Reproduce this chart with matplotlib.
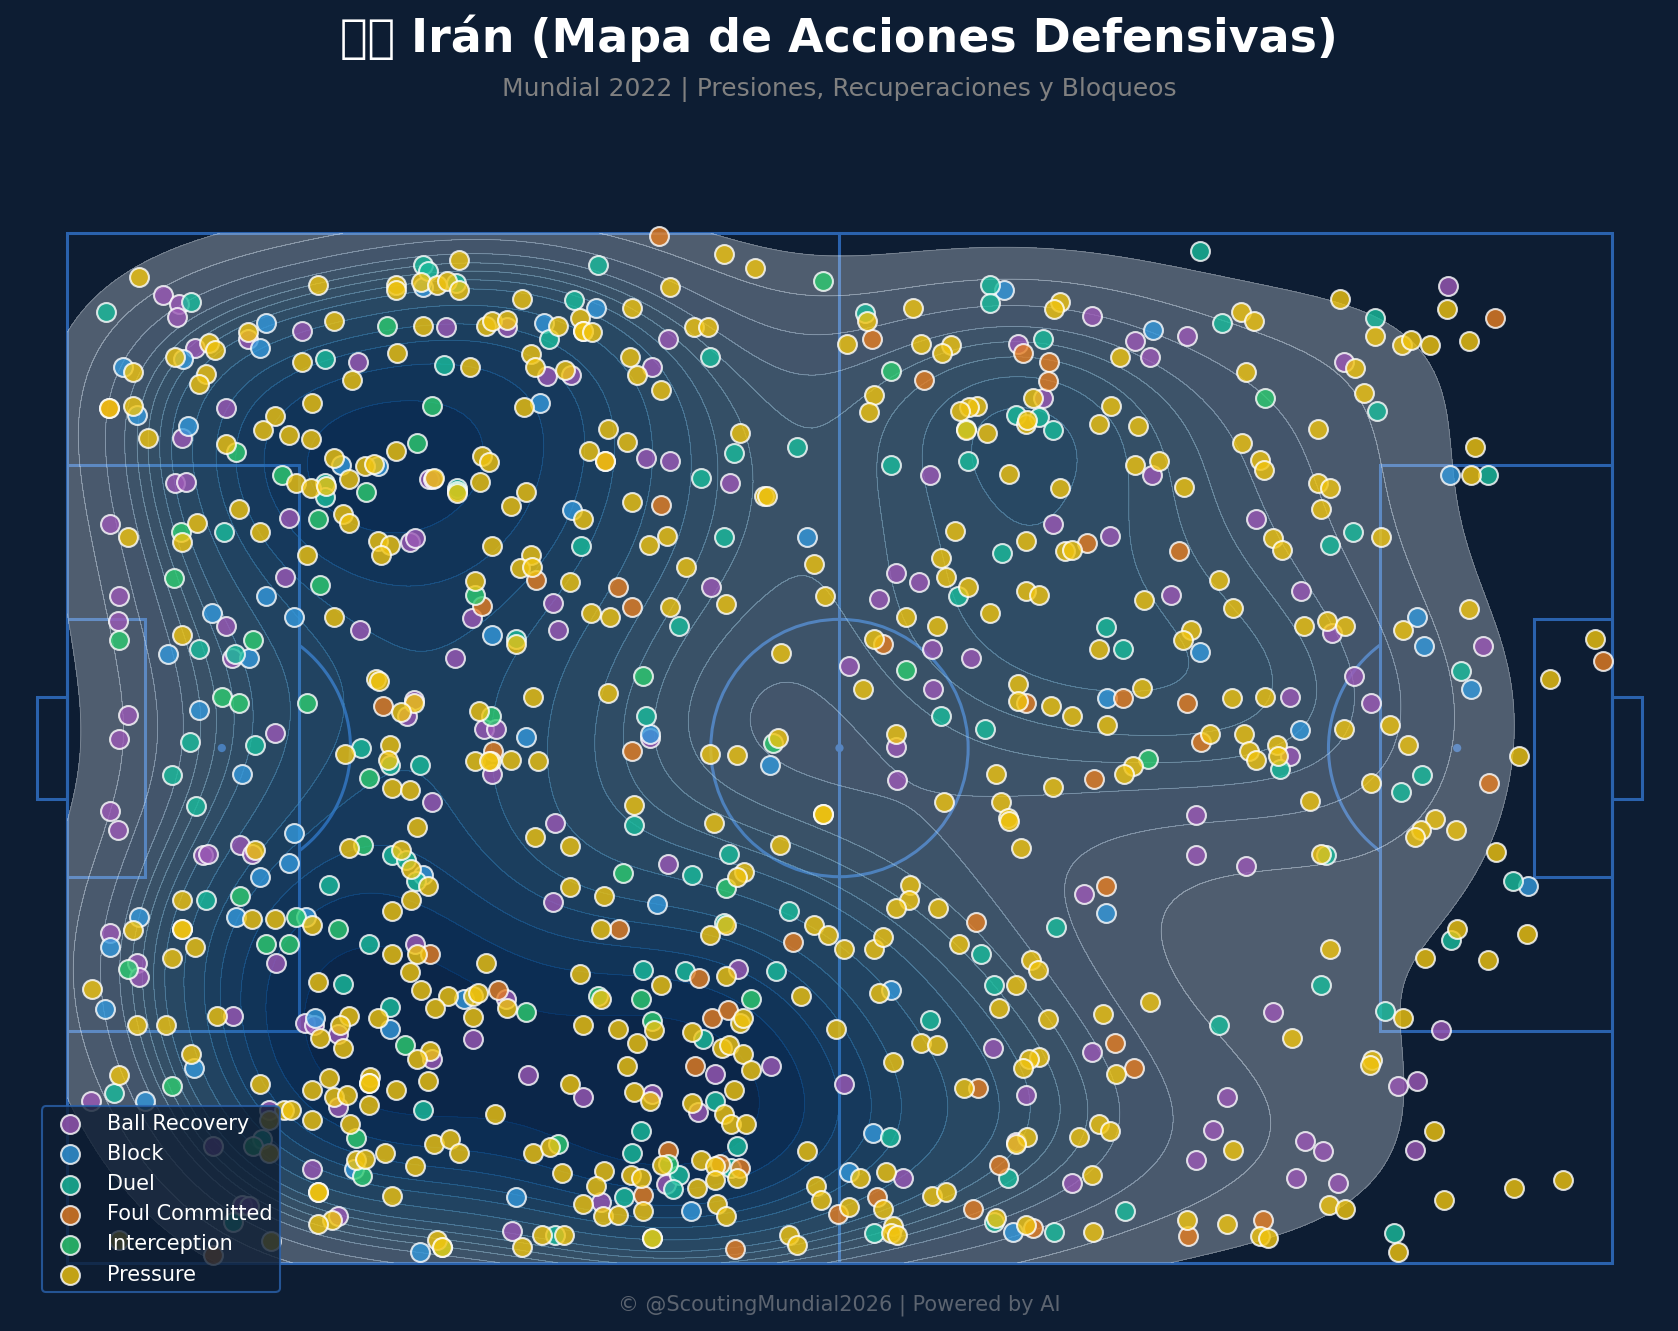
import matplotlib
matplotlib.use("Agg")
import matplotlib.pyplot as plt
from matplotlib.patches import Rectangle, Circle, Arc
import numpy as np
import seaborn as sns

# Defensive actions in pitch coordinates (120 x 80, y measured from the top touchline)
ball_recovery = [
    (7.4,4.8),(8.7,5.5),(8.5,6.5),(14.0,8.2),(18.2,7.6),(29.4,7.3),(34.2,7.3),(9.9,8.9),(22.6,10.0),(37.3,11.1),
    (39.1,11.0),(12.3,13.6),(8.9,15.9),(28.1,19.1),(28.4,19.1),(8.4,19.4),(9.2,19.3),(3.3,22.6),(17.2,22.1),(26.6,24.0),
    (27.0,23.7),(46.7,8.2),(45.4,10.4),(45.0,17.5),(46.8,17.7),(51.5,19.4),(79.6,6.4),(73.9,8.6),(75.8,12.8),(67.0,18.8),
    (76.6,22.6),(107.3,4.1),(87.0,8.0),(83.0,8.4),(84.1,9.6),(99.2,10.0),(84.3,18.8),(92.4,22.2),(81.0,23.5),(16.9,26.7),
    (4.0,28.2),(3.9,30.1),(12.3,30.5),(22.7,30.8),(12.8,33.0),(31.45,29.9),(37.7,28.7),(38.1,30.8),(30.1,33.0),(26.9,36.3),
    (26.4,37.5),(32.4,38.5),(33.3,38.55),(4.7,37.4),(4.0,39.3),(16.1,38.8),(33.0,42.05),(28.3,44.2),(3.3,44.9),(3.9,46.4),
    (37.9,45.8),(13.4,47.5),(14.35,48.2),(10.5,48.3),(10.9,48.2),(37.7,52.0),(50.0,27.5),(63.1,28.45),(64.4,26.4),(66.2,27.1),
    (67.2,32.3),(70.2,33.0),(60.75,33.6),(67.3,35.4),(45.3,39.25),(64.4,39.9),(64.5,42.45),(46.7,49.0),(79.0,51.35),(85.8,28.1),
    (95.9,27.8),(98.3,31.05),(110.0,32.05),(100.0,34.4),(101.3,36.5),(95.0,36.0),(95.0,40.6),(87.7,45.2),(87.7,48.35),(91.6,49.2),
    (3.3,54.35),(16.2,56.7),(5.4,56.7),(5.6,57.8),(12.9,60.85),(27.0,55.2),(34.1,59.5),(18.5,61.4),(19.2,61.55),(21.0,62.25),
    (31.5,62.65),(28.3,64.2),(1.8,67.4),(21.0,67.9),(35.8,65.4),(15.7,68.1),(11.3,70.95),(13.55,75.5),(14.1,75.6),(19.0,72.7),
    (21.0,76.35),(34.55,77.55),(52.1,57.2),(50.3,65.3),(54.7,64.7),(40.1,67.15),(45.4,66.9),(49.0,68.3),(60.35,66.1),(46.5,73.9),
    (41.5,75.3),(71.9,63.3),(79.6,63.6),(74.5,67.0),(73.75,70.6),(64.9,73.45),(78.1,73.8),(93.7,60.55),(106.75,61.95),(103.4,66.3),
    (104.9,65.9),(90.1,67.1),(89.0,69.7),(96.2,70.55),(97.6,71.3),(104.7,71.2),(87.7,72.0),(95.5,73.4),(98.75,73.8),
]
block = [
    (27.6,4.2),(15.4,7.0),(15.0,8.9),(37.0,7.0),(9.0,9.8),(4.3,10.4),(36.7,13.2),(5.4,14.1),(9.4,15.0),(21.3,18.0),
    (24.1,18.1),(41.1,5.8),(39.2,21.5),(57.5,23.6),(72.8,4.4),(84.4,7.5),(107.45,18.8),(15.4,28.2),(11.2,29.5),(17.6,29.85),
    (7.85,32.7),(14.1,33.0),(33.0,31.25),(35.6,39.15),(10.2,37.05),(13.6,42.05),(17.6,46.6),(17.2,48.9),(15.0,50.0),(27.6,49.9),
    (5.6,53.1),(13.1,53.1),(18.55,53.1),(45.3,38.9),(54.6,41.35),(80.8,36.15),(45.8,52.1),(80.7,52.85),(88.05,32.5),(104.9,29.85),
    (105.4,32.05),(109.1,35.4),(95.8,38.6),(113.5,50.7),(3.3,55.5),(2.9,60.3),(30.8,59.5),(19.25,61.0),(25.1,61.8),(9.85,64.9),
    (6.0,67.4),(22.3,72.7),(34.9,74.9),(27.4,79.2),(48.5,76.0),(64.0,58.8),(62.6,69.95),(60.75,72.95),(73.5,77.6),
]
duel = [
    (3.0,6.1),(9.6,5.3),(27.6,2.5),(28.0,2.9),(30.2,3.9),(37.4,8.2),(20.0,9.8),(29.3,10.2),(20.0,19.4),(20.0,20.5),
    (30.3,19.8),(12.2,23.2),(41.2,2.5),(39.4,5.2),(49.9,9.6),(51.8,17.1),(49.2,19.05),(56.7,16.6),(39.9,24.3),(51.0,23.6),
    (62.0,6.2),(71.7,4.0),(71.7,5.4),(75.8,8.2),(73.7,14.15),(75.5,14.3),(76.6,15.3),(64.0,18.0),(70.0,17.7),(72.6,24.85),
    (88.0,1.4),(101.6,6.6),(89.7,7.0),(101.8,13.8),(110.4,18.8),(98.1,24.2),(99.9,23.25),(10.2,32.3),(13.0,32.7),(34.9,31.5),
    (9.5,39.5),(14.6,39.8),(22.8,40.0),(25.05,41.3),(27.4,41.3),(8.1,42.1),(10.0,44.5),(25.2,48.35),(26.3,48.7),(27.1,50.3),
    (20.3,50.65),(10.8,51.8),(47.5,30.5),(69.2,28.2),(80.7,30.6),(67.9,37.5),(71.3,38.55),(45.0,37.5),(44.05,45.95),(51.4,48.2),
    (48.55,49.9),(56.1,52.7),(82.0,32.3),(108.3,34.05),(94.2,41.6),(105.3,42.1),(103.65,43.45),(97.8,48.3),(112.35,50.3),(21.4,58.35),
    (23.4,55.2),(25.1,60.1),(3.65,66.8),(27.65,68.1),(15.15,70.35),(12.9,76.8),(37.9,77.85),(51.0,53.6),(44.7,57.25),(48.0,57.3),
    (55.1,57.3),(49.4,62.65),(50.3,67.4),(44.6,69.8),(43.9,71.5),(51.6,72.6),(52.05,70.95),(47.5,73.2),(47.1,74.3),(43.25,74.9),
    (71.0,56.0),(76.8,53.9),(72.0,58.4),(67.0,61.15),(63.9,70.2),(73.1,73.4),(62.7,77.7),(72.0,76.8),(76.7,77.6),(107.5,54.9),
    (97.4,58.4),(102.4,60.45),(89.5,61.55),(82.2,76.0),(103.1,77.7),
]
foul_committed = [
    (3.2,13.6),(46.0,0.2),(41.8,17.7),(46.1,21.1),(62.5,8.2),(74.3,9.3),(76.3,10.0),(76.2,11.5),(66.6,11.4),(79.2,24.1),
    (110.95,6.6),(86.4,24.7),(32.2,29.0),(36.4,26.95),(24.5,36.7),(33.1,40.2),(42.8,27.5),(43.9,29.05),(63.4,31.9),(43.9,40.2),
    (74.5,36.5),(79.8,42.4),(80.7,50.7),(119.3,33.2),(82.0,36.15),(87.0,36.5),(88.1,39.5),(110.5,42.7),(28.2,56.0),(33.5,58.8),
    (11.3,79.4),(42.9,54.1),(56.4,55.1),(49.1,57.9),(50.1,61.0),(51.35,60.35),(48.8,64.7),(46.7,71.3),(50.7,72.35),(52.3,72.6),
    (44.75,74.7),(51.9,78.9),(59.9,76.2),(70.6,53.5),(70.8,66.45),(72.4,72.4),(62.9,74.9),(70.4,75.8),(75.0,77.3),(81.4,62.9),
    (82.9,64.9),(87.1,77.9),(92.9,76.7),
]
interception = [
    (24.8,7.2),(28.3,13.4),(13.1,17.0),(27.2,16.3),(16.7,18.8),(23.2,20.1),(30.3,20.0),(19.5,22.2),(8.8,23.2),(58.7,3.7),
    (64.0,10.7),(69.8,15.2),(93.1,12.8),(8.25,26.8),(4.0,31.6),(19.6,27.3),(14.4,31.6),(31.7,28.1),(32.9,37.5),(12.0,36.0),
    (13.3,36.5),(18.6,36.5),(23.4,42.3),(23.0,47.5),(13.4,51.5),(17.8,53.15),(65.2,33.95),(44.75,34.4),(54.8,39.6),(51.2,50.9),
    (43.2,49.7),(84.0,40.85),(15.4,55.2),(17.2,55.2),(21.0,54.1),(4.7,57.2),(35.6,60.55),(26.25,63.1),(8.1,66.3),(14.4,70.95),
    (22.45,70.3),(38.1,70.8),(22.9,73.25),(29.1,78.8),(41.2,59.3),(44.6,59.5),(53.1,59.5),(45.4,61.2),(46.7,72.3),(45.4,78.1),
]
pressure = [
    (5.6,3.4),(30.4,2.1),(19.5,4.0),(25.5,4.0),(25.5,4.4),(27.5,3.8),(28.7,4.0),(29.5,3.7),(30.4,4.4),(35.3,5.1),
    (14.0,7.7),(20.7,6.8),(27.6,7.2),(32.5,7.2),(33.0,6.8),(34.2,6.7),(38.1,7.2),(11.0,8.5),(11.5,9.1),(8.4,9.6),
    (5.1,10.8),(10.8,10.9),(10.2,11.7),(18.2,10.0),(22.1,11.4),(25.6,9.3),(31.3,10.4),(36.0,9.4),(36.3,10.4),(38.7,10.6),
    (3.2,13.6),(5.1,13.4),(19.0,13.2),(35.5,13.5),(16.1,14.2),(6.3,15.9),(15.2,15.3),(17.2,15.7),(18.9,16.0),(12.3,16.4),
    (25.5,16.9),(20.7,17.5),(23.1,18.1),(23.8,17.9),(32.2,17.3),(32.8,17.8),(17.8,19.4),(18.9,19.8),(20.1,19.6),(21.9,19.1),
    (28.5,19.0),(30.3,20.2),(32.1,19.3),(35.6,20.1),(34.5,21.2),(13.3,21.4),(21.4,21.8),(21.9,22.5),(4.7,23.6),(10.1,22.5),
    (8.9,24.0),(15.0,23.2),(24.1,23.9),(25.1,24.2),(24.4,25.0),(18.6,25.0),(33.0,24.3),(36.0,25.0),(35.2,26.0),(36.1,25.9),
    (51.0,1.6),(53.4,2.7),(46.8,4.2),(43.9,5.8),(39.8,6.6),(40.1,7.6),(40.1,7.6),(40.8,7.7),(48.7,7.3),(49.8,7.3),
    (43.7,9.6),(44.3,11.05),(46.1,12.2),(42.0,15.2),(43.5,16.2),(40.5,16.9),(41.8,17.7),(52.3,15.5),(54.1,20.4),(54.4,20.4),
    (40.1,22.2),(43.9,20.9),(45.2,24.2),(46.6,23.5),(58.0,25.7),(48.1,25.9),(62.1,6.8),(60.6,8.6),(65.7,5.8),(77.1,5.3),
    (76.7,5.9),(66.3,8.6),(68.7,8.7),(68.0,9.3),(62.7,12.6),(62.3,13.9),(75.0,12.8),(80.2,14.85),(70.65,13.4),(70.1,13.5),
    (69.4,13.8),(69.8,15.3),(71.5,15.55),(74.5,14.8),(74.6,14.5),(73.2,18.7),(77.1,19.8),(69.0,23.1),(74.5,23.9),(77.5,24.7),
    (78.1,24.6),(67.9,25.2),(98.9,5.1),(101.6,8.0),(107.2,5.9),(108.9,8.4),(103.7,8.7),(104.4,8.3),(105.9,8.7),(81.8,9.6),
    (91.2,6.1),(92.2,6.85),(91.6,10.8),(100.1,10.5),(100.8,12.4),(81.1,13.4),(83.2,15.0),(97.2,15.2),(91.3,16.3),(109.4,16.6),
    (83.0,18.0),(84.8,17.7),(86.8,19.7),(92.7,17.6),(93.0,18.4),(97.2,19.4),(98.1,19.8),(97.4,21.4),(109.1,18.8),(93.7,23.7),
    (94.4,24.65),(102.1,23.6),(20.7,29.8),(8.9,31.25),(31.7,27.0),(34.9,31.9),(24.0,34.6),(24.2,34.8),(26.9,36.5),(25.9,37.2),
    (32.0,37.1),(36.2,36.0),(21.6,40.5),(25.1,39.8),(24.9,40.9),(31.7,41.0),(32.9,41.0),(32.8,41.0),(34.5,40.9),(36.6,41.0),
    (25.2,43.1),(26.6,43.3),(27.2,46.15),(36.3,46.9),(14.6,47.9),(21.9,47.8),(25.9,47.9),(26.7,49.4),(28.05,50.7),(8.9,51.8),
    (26.7,51.8),(25.2,52.7),(14.35,53.25),(16.1,53.25),(39.05,27.1),(40.7,29.5),(42.2,29.8),(46.8,29.05),(51.2,28.8),(58.9,28.2),
    (68.3,26.7),(70.0,27.5),(74.5,27.8),(75.5,28.1),(71.7,29.5),(65.2,29.8),(67.6,30.55),(80.2,32.3),(55.45,32.6),(62.7,31.5),
    (61.8,35.4),(42.0,35.75),(73.9,35.0),(73.9,36.35),(76.4,36.75),(78.1,37.5),(80.8,38.2),(49.9,40.5),(52.05,40.55),(55.2,39.2),
    (64.4,38.9),(72.2,42.05),(76.6,43.0),(68.1,44.2),(72.55,44.2),(73.1,45.45),(73.2,45.7),(74.1,47.8),(44.05,44.45),(50.25,45.8),
    (58.7,45.1),(58.7,45.1),(55.4,47.5),(52.6,49.6),(52.0,50.0),(39.05,47.6),(39.05,50.8),(41.7,51.5),(65.5,50.65),(65.4,51.8),
    (64.4,52.45),(67.65,52.4),(89.5,26.95),(83.7,28.5),(90.6,29.1),(108.9,29.2),(87.3,30.8),(86.7,31.6),(96.1,30.55),(97.9,30.1),
    (99.3,30.55),(103.8,30.8),(118.7,31.5),(115.2,34.6),(83.5,35.3),(90.5,36.15),(93.1,36.0),(99.2,38.5),(102.8,38.2),(104.2,39.8),
    (112.8,40.6),(88.8,38.9),(91.45,38.9),(91.85,40.2),(92.4,40.95),(94.0,39.75),(94.1,40.6),(82.8,41.4),(82.1,42.05),(101.3,42.75),
    (96.6,44.1),(97.4,48.2),(106.3,45.55),(105.2,46.4),(104.7,46.9),(107.9,46.4),(111.0,48.05),(5.1,54.15),(8.9,54.1),(8.9,54.1),
    (9.9,55.5),(8.1,56.3),(19.0,53.75),(1.9,58.7),(5.4,61.55),(7.7,61.55),(11.6,60.8),(25.2,56.0),(27.2,56.0),(26.6,57.4),
    (19.5,58.15),(32.5,56.7),(27.5,58.8),(29.6,59.3),(31.5,59.3),(31.9,59.0),(28.6,60.2),(34.15,60.2),(31.5,60.9),(21.9,60.8),
    (21.2,61.55),(19.65,62.5),(21.45,63.3),(24.15,61.0),(9.6,63.8),(28.2,63.55),(27.2,64.2),(4.0,65.4),(15.0,66.1),(19.0,66.6),
    (20.35,65.65),(20.7,67.15),(21.7,67.0),(23.4,67.75),(23.5,65.6),(23.45,66.0),(23.4,66.05),(25.5,66.6),(28.05,65.9),(39.05,66.1),
    (33.2,68.45),(16.8,68.1),(17.4,68.1),(15.7,68.9),(15.7,71.5),(4.0,78.2),(15.85,78.3),(19.0,68.9),(21.95,69.2),(28.5,70.8),
    (29.75,70.4),(30.4,71.5),(36.2,71.5),(37.5,71.0),(38.4,73.05),(22.45,72.0),(23.1,71.9),(24.7,71.5),(27.0,72.5),(19.5,74.5),
    (19.5,74.5),(25.2,74.8),(20.6,76.7),(19.5,77.0),(35.3,78.8),(36.9,77.85),(38.6,77.85),(28.7,78.25),(29.1,78.8),(41.5,54.1),
    (51.2,53.75),(49.9,54.5),(58.0,53.75),(59.1,54.5),(60.35,55.65),(62.7,55.6),(63.4,54.7),(39.8,57.6),(46.1,58.4),(51.2,57.7),
    (41.5,59.5),(57.0,59.3),(40.1,61.55),(42.8,61.8),(45.6,61.9),(48.55,62.1),(52.3,61.35),(52.5,61.0),(59.7,61.8),(44.3,62.9),
    (43.5,64.7),(50.9,63.35),(51.4,63.1),(52.5,63.8),(53.1,65.05),(44.05,66.75),(45.3,67.4),(48.55,67.6),(51.0,68.45),(51.6,69.25),
    (52.7,69.25),(51.8,66.6),(57.5,71.3),(46.2,72.4),(49.2,72.0),(50.3,72.5),(52.05,73.45),(41.7,72.9),(43.8,73.2),(44.6,73.45),
    (48.9,74.2),(50.3,73.6),(41.1,74.0),(40.1,75.4),(41.65,76.4),(42.8,76.3),(44.7,76.0),(50.5,75.4),(51.2,76.4),(45.4,78.1),
    (56.1,77.85),(56.7,78.6),(58.2,74.0),(58.6,75.1),(60.75,75.7),(69.3,55.2),(74.9,56.5),(75.4,57.25),(63.1,59.0),(73.7,58.4),
    (72.4,60.2),(76.2,61.05),(80.5,60.7),(66.3,62.9),(67.6,63.1),(64.15,64.4),(75.5,64.0),(74.7,64.2),(74.3,64.9),(69.7,66.45),
    (74.6,70.25),(73.75,70.8),(78.6,70.2),(80.2,69.2),(63.6,72.95),(61.6,73.45),(79.6,73.2),(63.4,75.8),(67.2,74.8),(68.3,74.5),
    (64.15,77.15),(64.0,77.65),(64.5,77.85),(72.15,76.5),(74.5,77.1),(79.7,77.6),(108.0,54.1),(113.4,54.45),(105.5,56.3),(110.4,56.5),
    (98.1,55.65),(84.1,59.7),(103.8,61.0),(95.2,62.5),(101.4,64.25),(101.2,64.65),(81.5,65.3),(106.2,69.8),(81.0,69.8),(90.6,71.2),
    (116.25,73.6),(112.4,74.2),(107.0,75.1),(98.05,75.5),(99.3,75.8),(87.0,76.7),(90.1,77.0),(92.7,77.9),(93.3,78.1),(103.4,79.2),
]

series_names = ["Ball Recovery", "Block", "Duel", "Foul Committed", "Interception", "Pressure"]
series_points = [ball_recovery, block, duel, foul_committed, interception, pressure]
series_colors = ["#9b59b6", "#3498db", "#1abc9c", "#e67e22", "#2ecc71", "#f1c40f"]

BG = "#0d1d33"
LINE = "#2a62ad"

W, H = 1678, 1331
fig = plt.figure(figsize=(W / 100, H / 100), dpi=100, facecolor=BG)
ax = fig.add_axes([0, 0, 1, 1], facecolor=BG)
scale = 12.868
ax.set_xlim(-67.4 / scale, (W - 67.4) / scale)
ax.set_ylim((H - 233.3) / scale, -233.3 / scale)
ax.axis("off")

# Pitch markings
line_kw = dict(fill=False, ec=LINE, lw=2.2, zorder=1)
for x, y, w, h in [(0, 0, 120, 80), (0, 18, 18, 44), (102, 18, 18, 44), (0, 30, 6, 20),
                   (114, 30, 6, 20), (-2.4, 36, 2.4, 8), (120, 36, 2.4, 8)]:
    ax.add_patch(Rectangle((x, y), w, h, **line_kw))
ax.plot([60, 60], [0, 80], color=LINE, lw=2.2, zorder=1)
ax.add_patch(Circle((60, 40), 10, **line_kw))
ax.add_patch(Arc((12, 40), 20, 20, theta1=-53.1, theta2=53.1, ec=LINE, lw=2.2, zorder=1))
ax.add_patch(Arc((108, 40), 20, 20, theta1=126.9, theta2=233.1, ec=LINE, lw=2.2, zorder=1))
for cx in (12, 60, 108):
    ax.add_patch(Circle((cx, 40), 0.32, fc=LINE, ec="none", zorder=1))

# Density of all actions, limited to the pitch
all_pts = np.array([p for pts in series_points for p in pts])
kde_kw = dict(x=all_pts[:, 0], y=all_pts[:, 1], levels=15, thresh=0.05, bw_adjust=1.05,
              clip=((0, 120), (0, 80)), ax=ax, zorder=2)
sns.kdeplot(fill=True, cmap="Blues", alpha=0.3, **kde_kw)
sns.kdeplot(fill=False, cmap="Blues", alpha=0.28, linewidths=0.6, **kde_kw)
ax.set_xlim(-67.4 / scale, (W - 67.4) / scale)
ax.set_ylim((H - 233.3) / scale, -233.3 / scale)
ax.axis("off")

# One scatter layer per action type
for name, pts, col in zip(series_names, series_points, series_colors):
    arr = np.array(pts)
    ax.scatter(arr[:, 0], arr[:, 1], s=185, color=col, edgecolors="white", linewidths=1.5,
               alpha=0.8, label=name, zorder=3, clip_on=False)

leg = ax.legend(loc="lower left", bbox_to_anchor=(42 / W, 1 - 1292 / H), bbox_transform=fig.transFigure,
                borderaxespad=0, fontsize=15, facecolor=BG, edgecolor=LINE, framealpha=0.8,
                labelspacing=0.49, borderpad=0.35, handletextpad=0.75, labelcolor="white")
leg.get_frame().set_linewidth(1.5)
leg.set_zorder(5)

fig.text(0.5, 1 - 38.5 / H, "\U0001F1EE\U0001F1F7 Irán (Mapa de Acciones Defensivas)", color="white",
         fontsize=33, fontweight="bold", ha="center", va="center")
fig.text(0.5, 1 - 89 / H, "Mundial 2022 | Presiones, Recuperaciones y Bloqueos", color="#808080",
         fontsize=18, ha="center", va="center")
fig.text(0.5, 1 - 1305 / H, "© @ScoutingMundial2026 | Powered by AI", color="#5c6470",
         fontsize=15, ha="center", va="center")

fig.savefig("out.png", dpi=100, facecolor=BG)
